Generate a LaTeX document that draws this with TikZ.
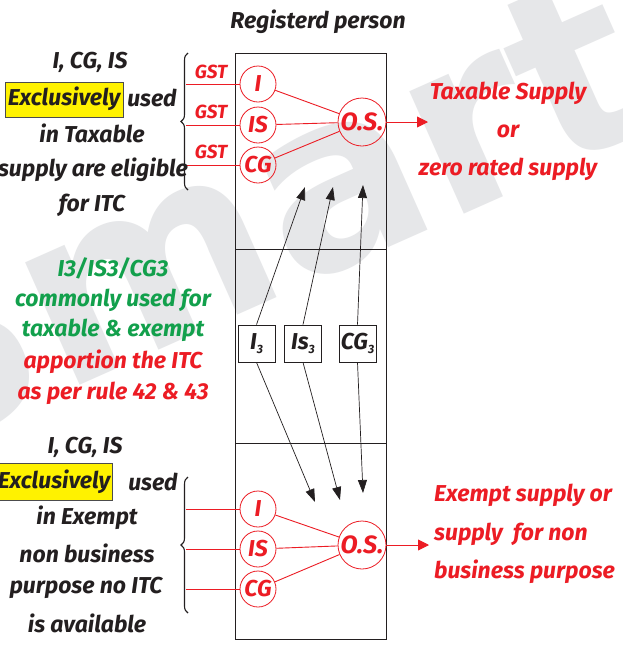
\documentclass[tikz,border=0pt]{standalone}
\usepackage{fontspec}
\setmainfont{Fira Sans}
\newfontfamily\wmfont{DejaVu Sans}
\usetikzlibrary{arrows.meta,decorations.pathreplacing}
\definecolor{hred}{HTML}{EC1C24}
\definecolor{hgreen}{HTML}{12A04C}
\definecolor{hyel}{HTML}{FFF200}
\definecolor{hink}{HTML}{231F20}
\definecolor{wmgray}{HTML}{E6E7E9}
\begin{document}
\begin{tikzpicture}[x=1pt,y=-1pt,
  txt/.style={font=\fontsize{23}{26}\selectfont\bfseries\itshape, inner sep=0pt, text=hink},
  rtxt/.style={txt, text=hred},
  gtxt/.style={txt, text=hgreen},
  gst/.style={font=\fontsize{19}{21}\selectfont\bfseries\itshape, text=hred, inner sep=0pt},
  circ/.style={circle, draw=hred, line width=0.8pt, minimum size=36pt, inner sep=0pt,
    text=hred, font=\fontsize{23}{24}\selectfont\bfseries\itshape},
  osc/.style={circ, minimum size=48pt, font=\fontsize{25}{26}\selectfont\bfseries\itshape},
  rline/.style={draw=hred, line width=0.9pt},
  rarrow/.style={rline, -{Triangle[length=11pt,width=11pt]}},
  box3/.style={draw=hink, line width=0.8pt, minimum width=37pt, minimum height=37pt,
    inner sep=0pt, text=hink, font=\fontsize{23}{24}\selectfont\bfseries\itshape},
  barrow/.style={draw=hink, line width=0.7pt, -{Triangle[length=13pt,width=9pt]}},
  hl/.style={fill=hyel, draw=black!70, line width=0.9pt},
  wbrace/.style={draw=hink, line width=1.1pt, decorate, decoration={brace, amplitude=7pt}},
  frame/.style={draw=hink, line width=0.9pt}]

\useasboundingbox (0,0) rectangle (623,646);
\fill[white] (0,0) rectangle (623,646);

% faint watermark lettering behind the chart
\begin{scope}
  \clip (0,0) rectangle (623,646);
  \node[anchor=base west, rotate=24, text=wmgray, inner sep=0pt,
    font=\wmfont\fontsize{245}{245}\selectfont\bfseries] (wm) at (-100,465) {Smart};
\end{scope}

% title
\node[txt] (title) at (318,22) {Registerd person};

% the registered person's column, split in three
\draw[frame] (235,53) rectangle (386,639);
\draw[frame] (235,249) -- (386,249);
\draw[frame] (235,443) -- (386,443);

% ---- taxable supply block ----
\node[circ] (ti) at (258,84) {I};
\node[circ] (tis) at (258,125) {IS};
\node[circ] (tcg) at (258,165) {CG};
\node[osc] (tos) at (362,122) {O.S.};
\draw[rline] (ti) -- (tos);
\draw[rline] (tis) -- (tos);
\draw[rline] (tcg) -- (tos);
\coordinate (tout) at (428,122);
\draw[rarrow] (tos.east) -- (tout);

\draw[wbrace] (188,190) -- (188,53);
\coordinate (tb1) at (186,84);
\coordinate (tb2) at (186,125);
\coordinate (tb3) at (186,165);
\draw[rline] (tb1) -- (ti);
\draw[rline] (tb2) -- (tis);
\draw[rline] (tb3) -- (tcg);
\node[gst] (g1) at (211,72) {GST};
\node[gst] (g2) at (211,112) {GST};
\node[gst] (g3) at (211,152) {GST};

% left note, taxable
\node[txt] (l1) at (90,62) {I, CG, IS};
\draw[hl] (5,82) rectangle (123,117);
\node[txt] (l2a) at (64,99) {Exclusively};
\node[txt] (l2b) at (152,98) {used};
\node[txt] (l3) at (92,133) {in Taxable};
\node[txt] (l4) at (93,170) {supply are eligible};
\node[txt] (l5) at (92,205) {for ITC};

% right note, taxable
\node[rtxt] (r1) at (508,93) {Taxable Supply};
\node[rtxt] (r2) at (508,131) {or};
\node[rtxt] (r3) at (508,169) {zero rated supply};

% ---- common inputs ----
\node[box3] (c1) at (256.5,343.5) {I\raisebox{-4pt}{\fontsize{12}{12}\selectfont 3}};
\node[box3] (c2) at (303,343.5) {Is\raisebox{-4pt}{\fontsize{12}{12}\selectfont 3}};
\node[box3] (c3) at (357.5,343.5) {CG\raisebox{-4pt}{\fontsize{12}{12}\selectfont 3}};
\coordinate (u1) at (305,187);
\coordinate (u2) at (333,187);
\coordinate (u3) at (363,185);
\coordinate (d1) at (315,502);
\coordinate (d2) at (340,500);
\coordinate (d3) at (363,493);
\draw[barrow] (c1.north) -- (u1);
\draw[barrow] (c2.north) -- (u2);
\draw[barrow] (c3.north) -- (u3);
\draw[barrow] (c1.south) -- (d1);
\draw[barrow] (c2.south) -- (d2);
\draw[barrow] (c3.south) -- (d3);

\node[gtxt] (m1) at (113,268) {I3/IS3/CG3};
\node[gtxt] (m2) at (113,300) {commonly used for};
\node[gtxt] (m3) at (113,330) {taxable \& exempt};
\node[rtxt] (m4) at (113,362) {apportion the ITC};
\node[rtxt] (m5) at (113,393) {as per rule 42 \& 43};

% ---- exempt supply block ----
\node[circ] (ei) at (258,509) {I};
\node[circ] (eis) at (258,549) {IS};
\node[circ] (ecg) at (258,589) {CG};
\node[osc] (eos) at (362,545) {O.S.};
\draw[rline] (ei) -- (eos);
\draw[rline] (eis) -- (eos);
\draw[rline] (ecg) -- (eos);
\coordinate (eout) at (429,545);
\draw[rarrow] (eos.east) -- (eout);

\draw[wbrace] (188,613) -- (188,477);
\coordinate (eb1) at (186,509);
\coordinate (eb2) at (186,549);
\coordinate (eb3) at (186,589);
\draw[rline] (eb1) -- (ei);
\draw[rline] (eb2) -- (eis);
\draw[rline] (eb3) -- (ecg);

% left note, exempt
\node[txt] (k1) at (85,447) {I, CG, IS};
\draw[hl] (-2,463) rectangle (112,500);
\node[txt] (k2a) at (54,482) {Exclusively};
\node[txt] (k2b) at (153,482) {used};
\node[txt] (k3) at (87,518) {in Exempt};
\node[txt] (k4) at (87,553) {non business};
\node[txt] (k5) at (86,588) {purpose no ITC};
\node[txt] (k6) at (87,623) {is available};

% right note, exempt
\node[rtxt, anchor=west] (s1) at (434,495) {Exempt supply or};
\node[rtxt, anchor=west] (s2) at (434,534) {supply\ \ for non};
\node[rtxt, anchor=west] (s3) at (434,572) {business purpose};
\end{tikzpicture}
\end{document}
